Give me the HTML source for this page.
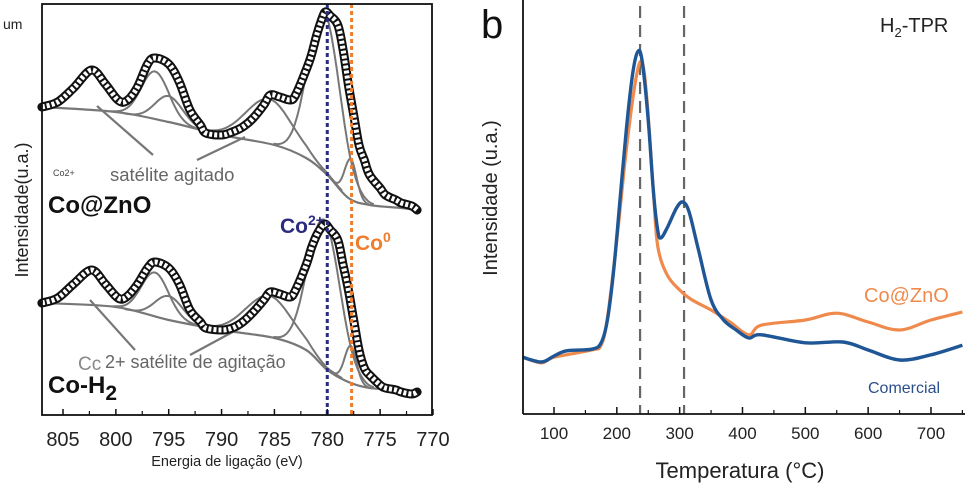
<!DOCTYPE html>
<html><head><meta charset="utf-8"><style>
html,body{margin:0;padding:0;background:#fff}
svg{display:block;font-family:"Liberation Sans",sans-serif}
</style></head><body>
<svg id="c" width="965" height="489" viewBox="0 0 965 489"></svg>
<script>
// ---- Panel a: XPS Co 2p ----
const xpsEnergy = [807,805.5,804,802.3,801,799.8,799,798,797,796.3,795,794,793,792,791.5,790,789,788,787,786,785.4,784.5,783.5,783,782,781.5,781,780.6,780.2,779.7,779,778.5,778,777.5,777,776.5,776,775,774.5,773.5,773,772,771.5];
const xpsTop = [107,102,88,70,84,100,101,88,64,58,64,82,110,125,133,135,132,127,118,105,95,97,100,95,70,55,35,22,12,16,25,50,85,115,145,160,175,188,195,200,203,206,210];
const xpsBot = [303,298,284,270,284,298,297,285,268,262,268,284,310,322,328,330,328,322,312,300,292,294,297,290,265,248,235,228,224,230,240,265,290,320,350,368,375,385,388,390,392,394,392];
const bgTopE = [807,800,795,790,785,782,780,778,776,773,771.5];
const bgTop = [107,112,122,135,145,158,175,198,205,208,210];
const bgBotE = bgTopE;
const bgBot = [303,307,320,330,338,350,370,382,388,390,392];
const xTicksA = [805,800,795,790,785,780,775,770];
// ---- Panel b: H2-TPR ----
const tprT = [50,80,100,120,160,175,185,195,205,215,225,233,240,250,258,265,270,280,295,305,315,330,350,370,390,410,430,500,560,600,650,700,750];
const tprBlue = [14.2,13,14.5,15.8,16.2,17.8,23.5,36,53.5,71,84.8,90.5,88.5,73.5,56,46,44,46.5,51.5,53,50.5,41,28.5,23.5,21,19,19.8,17.8,18,16,13.5,14.8,17.2];
const tprT2 = [50,80,100,160,175,185,200,215,230,240,248,258,265,280,300,320,350,380,410,430,500,550,600,650,700,750];
const tprOrange = [14.2,12.8,14.2,16,17.2,24,43.5,66,83.5,88,78.5,56,42,34.8,31,28.5,26,23,19.8,22.2,23.5,25.2,23,21,23.5,25.5];
const xTicksB = [100,200,300,400,500,600,700];
const peakLines = [237,307];

const S="http://www.w3.org/2000/svg", svg=document.getElementById('c');
function el(t,a,p){const e=document.createElementNS(S,t);for(const k in a)e.setAttribute(k,a[k]);(p||svg).appendChild(e);return e;}
function smooth(pts){let d="M"+pts[0][0].toFixed(1)+","+pts[0][1].toFixed(1);
 for(let i=0;i<pts.length-1;i++){const p0=pts[i-1]||pts[i],p1=pts[i],p2=pts[i+1],p3=pts[i+2]||p2;
 const c1=[p1[0]+(p2[0]-p0[0])/6,p1[1]+(p2[1]-p0[1])/6],c2=[p2[0]-(p3[0]-p1[0])/6,p2[1]-(p3[1]-p1[1])/6];
 d+=`C${c1[0].toFixed(1)},${c1[1].toFixed(1)} ${c2[0].toFixed(1)},${c2[1].toFixed(1)} ${p2[0].toFixed(1)},${p2[1].toFixed(1)}`;}return d;}
function txt(x,y,s,attrs,name){const t=el('text',Object.assign({x:x,y:y},attrs));t.textContent=s;return t;}

// Panel a scales
const xA=e=>63+(805-e)*10.571;
const gA=el('g',{});


function fit(E,Y,name){const p=el('path',{d:smooth(E.map((e,i)=>[xA(e),Y[i]])),fill:'none',stroke:'#777','stroke-width':2.2},gA);}
fit(bgTopE,bgTop,'background-top');fit(bgBotE,bgBot,'background-bottom');
const comps=[[796.3,1.3,48],[795,1.3,26],[785.5,2.2,45],[780.3,1.5,160],[777.8,0.55,40]];
function bgAt(E,Y,e){for(let i=0;i<E.length-1;i++){if(e<=E[i]&&e>=E[i+1]){const f=(E[i]-e)/(E[i]-E[i+1]);return Y[i]+f*(Y[i+1]-Y[i]);}}return Y[Y.length-1];}
[[bgTop,'top',0],[bgBot,'bottom',1]].forEach(([bg,nm,k])=>{comps.forEach((c,j)=>{const pts=[];for(let e=c[0]+3.2*c[1];e>=c[0]-3.2*c[1];e-=c[1]/6){pts.push([xA(e),bgAt(bgTopE,bg,e)-c[2]*(k?0.92:1)*Math.exp(-((e-c[0])**2)/(2*c[1]*c[1]))]);}
 const p=el('path',{d:"M"+pts.map(q=>q[0].toFixed(1)+","+q[1].toFixed(1)).join("L"),fill:'none',stroke:'#777','stroke-width':2},gA);});});
[[97,106,153,155],[197,160,245,137],[90,300,135,350],[190,355,240,328]].forEach((l,i)=>{const p=el('line',{x1:l[0],y1:l[1],x2:l[2],y2:l[3],stroke:'#777','stroke-width':2.2},gA);});
[[xpsTop,'xps-data-top'],[xpsBot,'xps-data-bottom']].forEach(([Y,nm])=>{const d=smooth(xpsEnergy.map((e,i)=>[xA(e),Y[i]]));
 const a=el('path',{d:d,fill:'none',stroke:'#111','stroke-width':9,'stroke-linecap':'round'},gA);
 const b=el('path',{d:d,fill:'none',stroke:'#fff','stroke-width':5,'stroke-dasharray':'3 2'},gA);});
let l1=el('line',{x1:xA(780),y1:4,x2:xA(780),y2:415,stroke:'#2b2b80','stroke-width':3,'stroke-dasharray':'4 3'},gA);
let l2=el('line',{x1:xA(777.7),y1:4,x2:xA(777.7),y2:415,stroke:'#ee7d2e','stroke-width':3,'stroke-dasharray':'4 3'},gA);
let fa=el('rect',{x:42,y:4,width:390,height:411,fill:'none',stroke:'#111','stroke-width':1.8},gA);
xTicksA.forEach(t=>{const x=xA(t);let tk=el('line',{x1:x,y1:415,x2:x,y2:409,stroke:'#111','stroke-width':1.5},gA);
 if(t>770){let m=el('line',{x1:x+26.4,y1:415,x2:x+26.4,y2:411,stroke:'#111','stroke-width':1.2},gA);}
 txt(x,446,t,{'text-anchor':'middle','font-size':20,fill:'#222'},'x-tick-label-a');});
txt(227,466,'Energia de ligação (eV)',{'text-anchor':'middle','font-size':14.5,fill:'#222'},'x-axis-title-a');
txt(28,210,'Intensidade(u.a.)',{'text-anchor':'middle','font-size':18,fill:'#222',transform:'rotate(-90 28 210)'},'y-axis-title-a');
txt(3,29,'um',{'font-size':14,fill:'#222'},'fragment-text');
txt(53,176,'Co2+',{'font-size':9,fill:'#444'},'co2-small-label');
txt(110,181,'satélite agitado',{'font-size':18.5,fill:'#666'},'satellite-label-top');
txt(48,213,'Co@ZnO',{'font-size':24,'font-weight':'bold',fill:'#111'},'sample-label-coznO');
txt(280,233,'Co',{'font-size':21,'font-weight':'bold',fill:'#2b2b80'},'co2-label').innerHTML='Co<tspan dy="-8" font-size="14">2+</tspan>';
txt(355,250,'Co',{'font-size':21,'font-weight':'bold',fill:'#ee7d2e'},'co0-label').innerHTML='Co<tspan dy="-8" font-size="14">0</tspan>';
txt(78,370,'Cc',{'font-size':19,fill:'#888'},'co-fragment-label');
txt(105,368,'2+ satélite de agitação',{'font-size':18,fill:'#666'},'satellite-label-bottom');
txt(48,393,'Co-H',{'font-size':24,'font-weight':'bold',fill:'#111'},'sample-label-coh2').innerHTML='Co-H<tspan dy="7" font-size="21">2</tspan>';

// Panel b scales
const xB=t=>554+(t-100)*0.6283, yB=v=>414-v*4;
let gl=el('g',{});
peakLines.forEach(t=>{let l=el('line',{x1:xB(t),y1:6,x2:xB(t),y2:414,stroke:'#666','stroke-width':2.2,'stroke-dasharray':'12 7'},gl);});
let po=el('path',{d:smooth(tprT2.map((t,i)=>[xB(t),yB(tprOrange[i])])),fill:'none',stroke:'#ef8a4c','stroke-width':3.2},gl);
let pb=el('path',{d:smooth(tprT.map((t,i)=>[xB(t),yB(tprBlue[i])])),fill:'none',stroke:'#1f5696','stroke-width':3.4},gl);
let ax1=el('line',{x1:523,y1:0,x2:523,y2:414,stroke:'#111','stroke-width':1.8},gl);
let ax2=el('line',{x1:523,y1:414,x2:965,y2:414,stroke:'#111','stroke-width':1.8},gl);
xTicksB.forEach(t=>{const x=xB(t);let tk=el('line',{x1:x,y1:414,x2:x,y2:407,stroke:'#111','stroke-width':1.5},gl);
 let m=el('line',{x1:xB(t+50),y1:414,x2:xB(t+50),y2:410,stroke:'#111','stroke-width':1.2},gl);
 txt(x,439,t,{'text-anchor':'middle','font-size':17,fill:'#222'},'x-tick-label-b');});
txt(740,478,'Temperatura (°C)',{'text-anchor':'middle','font-size':22,fill:'#222'},'x-axis-title-b');
txt(497,198,'Intensidade (u.a.)',{'text-anchor':'middle','font-size':20,fill:'#222',transform:'rotate(-90 497 198)'},'y-axis-title-b');
txt(481,38,'b',{'font-size':40,fill:'#111'},'panel-label-b');
txt(880,32,'H',{'font-size':20,fill:'#222'},'tpr-title').innerHTML='H<tspan dy="5" font-size="13">2</tspan><tspan dy="-5">-TPR</tspan>';
txt(864,302,'Co@ZnO',{'font-size':20,fill:'#ef8a4c'},'legend-co-zno');
txt(868,393,'Comercial',{'font-size':16,fill:'#2b4f8c'},'legend-comercial');
</script>
</body></html>
